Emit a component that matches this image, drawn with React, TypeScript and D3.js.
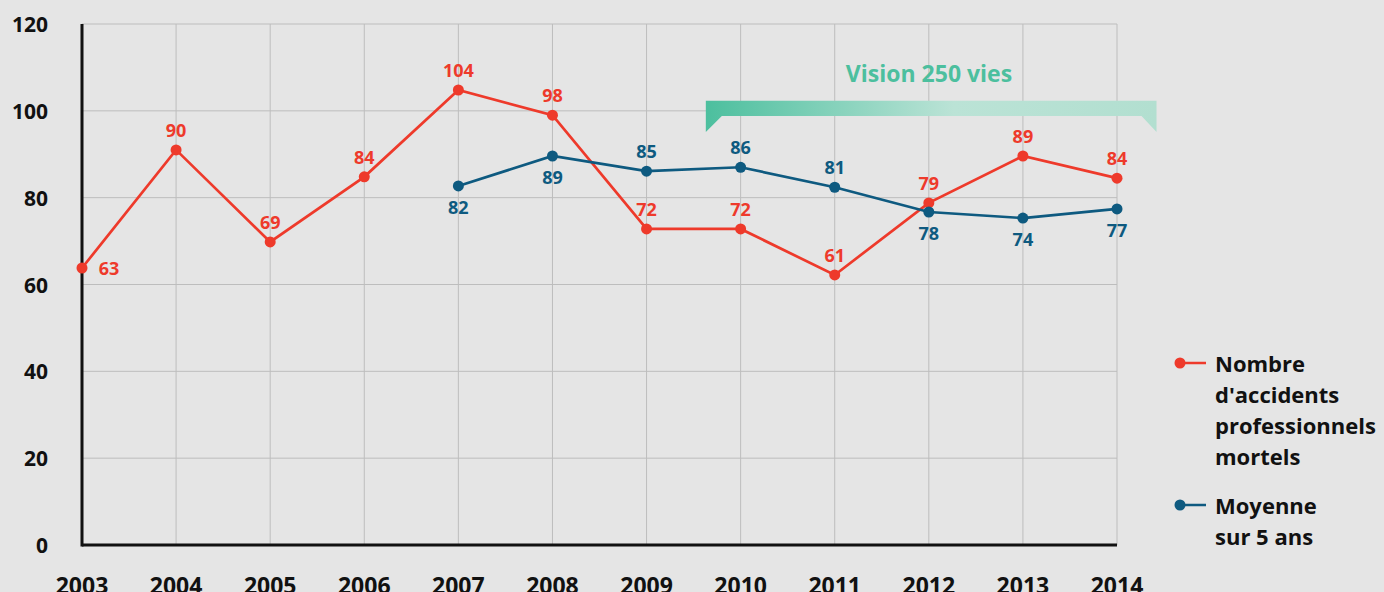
import React from "react";
import * as d3 from "d3";

const years = [2003, 2004, 2005, 2006, 2007, 2008, 2009, 2010, 2011, 2012, 2013, 2014];
const accidents = [63.8, 91, 69.8, 84.8, 104.8, 99, 72.8, 72.8, 62.2, 78.8, 89.6, 84.5];
const accidentLabels = ["63", "90", "69", "84", "104", "98", "72", "72", "61", "79", "89", "84"];
const accidentLabelPos = ["right", "above", "above", "above", "above", "above", "above", "above", "above", "above", "above", "above"];
const avgYears = [2007, 2008, 2009, 2010, 2011, 2012, 2013, 2014];
const average = [82.7, 89.6, 86.1, 87, 82.4, 76.7, 75.3, 77.4];
const averageLabels = ["82", "89", "85", "86", "81", "78", "74", "77"];
const averageLabelPos = ["below", "below", "above", "above", "above", "below", "below", "below"];
const yTicks = [0, 20, 40, 60, 80, 100, 120];

const RED = "#ee3a2b";
const BLUE = "#0e5a80";
const FONT = "'Open Sans', 'Noto Sans', sans-serif";

export default function App() {
  const W = 1384, H = 592;
  const x = d3.scaleLinear().domain([2003, 2014]).range([82, 1117]);
  const y = d3.scaleLinear().domain([0, 120]).range([545, 24]);
  const line = d3.line<[number, number]>().x(d => x(d[0])).y(d => y(d[1]));
  const redPts: [number, number][] = years.map((yr, i) => [yr, accidents[i]]);
  const bluePts: [number, number][] = avgYears.map((yr, i) => [yr, average[i]]);

  const bx0 = x(2009.63), bx1 = x(2014.42);
  const bTop = y(102.3), bBot = y(98.8);
  const tip = y(95.1);

  return (
    <svg width={W} height={H} style={{ position: "fixed", left: 0, top: 0, background: "#e5e5e5" }} fontFamily={FONT}>
      <defs>
        <linearGradient id="bannerGrad" x1="0" x2="1" y1="0" y2="0">
          <stop offset="0" stopColor="#4cbf9e" />
          <stop offset="0.55" stopColor="#bbe3d6" />
          <stop offset="1" stopColor="#b2dfd0" />
        </linearGradient>
      </defs>
      <rect x={0} y={0} width={W} height={H} fill="#e5e5e5" />
      {/* grid */}
      {yTicks.filter(t => t > 0).map(t => (
        <line key={"h" + t} x1={x(2003)} x2={x(2014)} y1={y(t)} y2={y(t)} stroke="#bdbdbd" strokeWidth={1} />
      ))}
      {years.filter(yr => yr > 2003).map(yr => (
        <line key={"v" + yr} x1={x(yr)} x2={x(yr)} y1={y(120)} y2={y(0)} stroke="#bdbdbd" strokeWidth={1} />
      ))}
      {/* axes */}
      <line x1={x(2003)} x2={x(2003)} y1={y(120)} y2={y(0) + 1.5} stroke="#111" strokeWidth={3} />
      <line x1={x(2003)} x2={x(2014)} y1={y(0)} y2={y(0)} stroke="#111" strokeWidth={3} />
      {yTicks.map(t => (
        <text key={"yt" + t} x={48} y={y(t)} textAnchor="end" dominantBaseline="central" fontSize={21} fontWeight={700} fill="#111">{t}</text>
      ))}
      {years.map(yr => (
        <text key={"xt" + yr} x={x(yr)} y={585} textAnchor="middle" dominantBaseline="central" fontSize={23} fontWeight={700} fill="#111">{yr}</text>
      ))}
      {/* banner */}
      <path d={`M${bx0},${bTop} L${bx1},${bTop} L${bx1},${tip} L${bx1 - 15},${bBot} L${bx0 + 16},${bBot} L${bx0},${tip} Z`} fill="url(#bannerGrad)" />
      <text x={929} y={73} textAnchor="middle" dominantBaseline="central" fontSize={23} fontWeight={700} fill="#4cbf9e">Vision 250 vies</text>
      {/* lines */}
      <path d={line(redPts) || ""} fill="none" stroke={RED} strokeWidth={2.7} />
      <path d={line(bluePts) || ""} fill="none" stroke={BLUE} strokeWidth={2.7} />
      {redPts.map((p, i) => (
        <circle key={"rc" + i} cx={x(p[0])} cy={y(p[1])} r={5.5} fill={RED} />
      ))}
      {bluePts.map((p, i) => (
        <circle key={"bc" + i} cx={x(p[0])} cy={y(p[1])} r={5.5} fill={BLUE} />
      ))}
      {redPts.map((p, i) => {
        const pos = accidentLabelPos[i];
        const lx = pos === "right" ? x(p[0]) + 27 : x(p[0]);
        const ly = pos === "right" ? y(p[1]) : y(p[1]) - 20;
        return (
          <text key={"rl" + i} x={lx} y={ly} textAnchor="middle" dominantBaseline="central" fontSize={18} fontWeight={700} fill={RED}>{accidentLabels[i]}</text>
        );
      })}
      {bluePts.map((p, i) => {
        const ly = averageLabelPos[i] === "above" ? y(p[1]) - 20 : y(p[1]) + 21;
        return (
          <text key={"bl" + i} x={x(p[0])} y={ly} textAnchor="middle" dominantBaseline="central" fontSize={18} fontWeight={700} fill={BLUE}>{averageLabels[i]}</text>
        );
      })}
      {/* legend */}
      <g>
        <line x1={1180} x2={1206} y1={363} y2={363} stroke={RED} strokeWidth={2.5} />
        <circle cx={1180} cy={363} r={5.5} fill={RED} />
        {["Nombre", "d'accidents", "professionnels", "mortels"].map((t, i) => (
          <text key={"lg1" + i} x={1215} y={363 + i * 31} dominantBaseline="central" fontSize={22} fontWeight={700} fill="#111">{t}</text>
        ))}
        <line x1={1180} x2={1206} y1={505} y2={505} stroke={BLUE} strokeWidth={2.5} />
        <circle cx={1180} cy={505} r={5.5} fill={BLUE} />
        {["Moyenne", "sur 5 ans"].map((t, i) => (
          <text key={"lg2" + i} x={1215} y={505 + i * 31} dominantBaseline="central" fontSize={22} fontWeight={700} fill="#111">{t}</text>
        ))}
      </g>
    </svg>
  );
}
